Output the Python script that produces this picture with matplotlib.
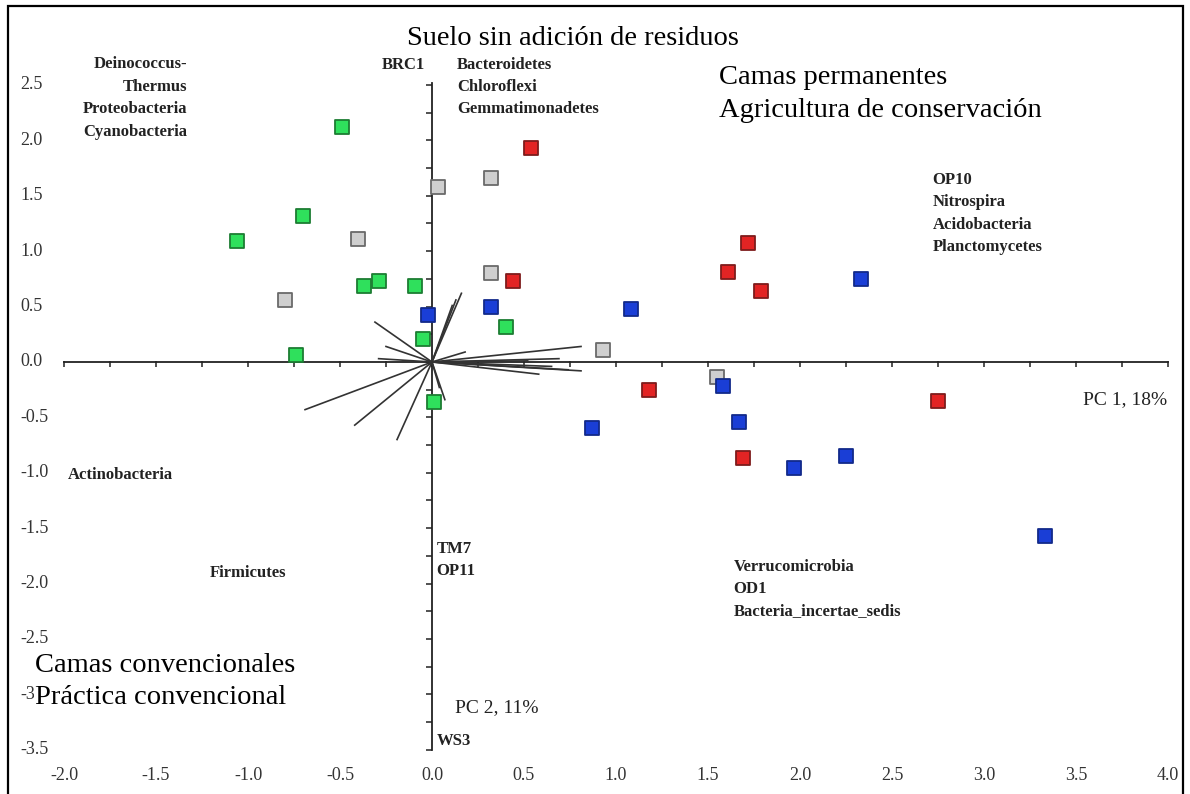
import numpy as np
import matplotlib.pyplot as plt
from matplotlib.patches import Rectangle

plt.rcParams['font.family'] = ['Liberation Serif', 'DejaVu Serif']

# sample scores (PC1, PC2) per treatment group
green_x = [-0.49, -0.70, -1.06, -0.37, -0.29, -0.09, -0.74, -0.05, 0.40, 0.01]
green_y = [2.12, 1.32, 1.09, 0.69, 0.73, 0.69, 0.06, 0.21, 0.32, -0.36]

gray_x = [0.03, 0.32, -0.40, -0.80, 0.32, 0.93, 1.55]
gray_y = [1.58, 1.66, 1.11, 0.56, 0.80, 0.11, -0.14]

red_x = [0.54, 1.72, 1.61, 1.79, 0.44, 1.18, 1.69, 2.75]
red_y = [1.93, 1.07, 0.81, 0.64, 0.73, -0.25, -0.87, -0.35]

blue_x = [-0.02, 0.32, 1.08, 2.33, 1.58, 0.87, 1.67, 1.97, 2.25, 3.33]
blue_y = [0.42, 0.50, 0.48, 0.75, -0.22, -0.60, -0.54, -0.96, -0.85, -1.57]

# loading vectors (end points, start at origin)
load_x = [-0.31, -0.25, -0.29, -0.69, -0.42, -0.19, 0.07, 0.04,
          0.16, 0.13, 0.11, 0.81, 0.18, 0.69, 0.74, 0.81, 0.58, 0.65, 0.52]
load_y = [0.36, 0.14, 0.03, -0.43, -0.57, -0.70, -0.34, -0.23,
          0.62, 0.56, 0.51, 0.14, 0.09, 0.03, -0.07, -0.08, -0.11, -0.04, 0.01]

x_ticks = np.arange(-2.0, 4.01, 0.5)
y_ticks = np.arange(2.5, -3.51, -0.5)

fig = plt.figure(figsize=(11.9, 7.94), dpi=100)
ax = fig.add_axes([0, 0, 1, 1])
ax.set_xlim(-2.348, 4.120)
ax.set_ylim(-3.899, 3.267)
ax.axis('off')

# outer frame
fig.patches.append(Rectangle((0.0067, -0.02), 0.9874, 1.0124, transform=fig.transFigure,
                             fill=False, edgecolor='black', linewidth=1.6))

# axes through origin
ax.plot([-2.0, 4.0], [0, 0], color='#222222', lw=1.3, zorder=2)
ax.plot([0, 0], [-3.5, 2.52], color='#222222', lw=1.3, zorder=2)
xt = np.arange(-2.0, 4.01, 0.25)
ax.vlines(xt, -0.045, 0.012, color='#222222', lw=1.1, zorder=2)
yt = np.arange(-3.5, 2.51, 0.25)
ax.hlines(yt, -0.03, 0, color='#222222', lw=1.1, zorder=2)

# loading vectors
for lx, ly in zip(load_x, load_y):
    ax.plot([0, lx], [0, ly], color='#333333', lw=1.2, zorder=3)

# sample points
ms = 90
ax.scatter(gray_x, gray_y, marker='s', s=ms, facecolor='#cfcfcf', edgecolor='#6a6a6a', lw=1.3, zorder=4)
ax.scatter(green_x, green_y, marker='s', s=ms, facecolor='#2fe05c', edgecolor='#1d7d33', lw=1.3, zorder=4)
ax.scatter(red_x, red_y, marker='s', s=ms, facecolor='#e22424', edgecolor='#7e1c1c', lw=1.3, zorder=4)
ax.scatter(blue_x, blue_y, marker='s', s=ms, facecolor='#1a3ed6', edgecolor='#122a8a', lw=1.3, zorder=4)

# tick labels
for v in x_ticks:
    ax.text(v, -3.73, f'{v:.1f}', ha='center', va='center', fontsize=13, color='#333333')
for v in y_ticks:
    ax.text(-2.239, v, f'{v:.1f}', ha='left', va='center', fontsize=13, color='#333333')

# phylum labels
bold = dict(fontsize=12, fontweight='bold', color='#222222', va='center')
ax.text(-1.33, 2.69, 'Deinococcus-', ha='right', **bold)
ax.text(-1.33, 2.48, 'Thermus', ha='right', **bold)
ax.text(-1.33, 2.28, 'Proteobacteria', ha='right', **bold)
ax.text(-1.33, 2.08, 'Cyanobacteria', ha='right', **bold)
ax.text(-0.04, 2.68, 'BRC1', ha='right', **bold)
ax.text(0.135, 2.68, 'Bacteroidetes', ha='left', **bold)
ax.text(0.135, 2.48, 'Chloroflexi', ha='left', **bold)
ax.text(0.135, 2.28, 'Gemmatimonadetes', ha='left', **bold)
ax.text(2.72, 1.64, 'OP10', ha='left', **bold)
ax.text(2.72, 1.44, 'Nitrospira', ha='left', **bold)
ax.text(2.72, 1.24, 'Acidobacteria', ha='left', **bold)
ax.text(2.72, 1.04, 'Planctomycetes', ha='left', **bold)
ax.text(-1.98, -1.02, 'Actinobacteria', ha='left', **bold)
ax.text(-1.21, -1.90, 'Firmicutes', ha='left', **bold)
ax.text(0.025, -1.69, 'TM7', ha='left', **bold)
ax.text(0.025, -1.89, 'OP11', ha='left', **bold)
ax.text(0.025, -3.42, 'WS3', ha='left', **bold)
ax.text(1.64, -1.85, 'Verrucomicrobia', ha='left', **bold)
ax.text(1.64, -2.05, 'OD1', ha='left', **bold)
ax.text(1.64, -2.25, 'Bacteria_incertae_sedis', ha='left', **bold)

# axis titles
ax.text(3.54, -0.34, 'PC 1, 18%', ha='left', va='center', fontsize=14, color='#222222')
ax.text(0.125, -3.12, 'PC 2, 11%', ha='left', va='center', fontsize=14, color='#222222')

# treatment annotations
big = dict(fontsize=20.5, color='black', va='center', ha='left')
ax.text(-0.135, 2.92, 'Suelo sin adición de residuos', **big)
ax.text(1.56, 2.57, 'Camas permanentes', **big)
ax.text(1.56, 2.27, 'Agricultura de conservación', **big)
ax.text(-2.158, -2.735, 'Camas convencionales', **big)
ax.text(-2.158, -3.03, 'Práctica convencional',
        bbox=dict(facecolor='white', edgecolor='none', pad=0.5), **big)

fig.savefig('out.png', dpi=100)
